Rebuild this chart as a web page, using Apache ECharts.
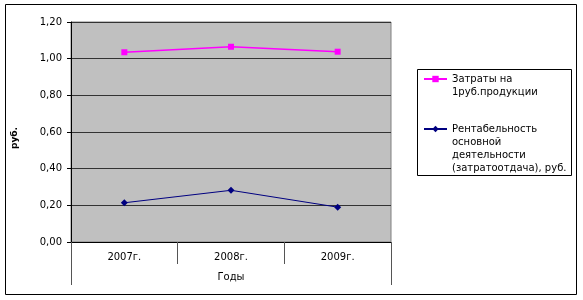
<!DOCTYPE html>
<html>
<head>
<meta charset="utf-8">
<script src="https://cdn.jsdelivr.net/npm/echarts@6/dist/echarts.min.js"></script>
<style>html,body{margin:0;padding:0;background:#fff}#c{width:583px;height:300px}</style>
</head>
<body>
<div id="c"></div>
<script>
var categories = ['2007г.', '2008г.', '2009г.'];
var costsPerRuble = [1.035, 1.065, 1.038];
var profitability = [0.214, 0.282, 0.19];
var yTickLabels = ['0,00', '0,20', '0,40', '0,60', '0,80', '1,00', '1,20'];
var seriesNames = ['Затраты на\n1руб.продукции', 'Рентабельность\nосновной\nдеятельности\n(затратоотдача), руб.'];
var xAxisTitle = ['Годы'];
var yAxisTitle = 'руб.';

var FONT = 'DejaVu Sans';
function topAligned(name) {
  var n = name.split('\n').length;
  return new Array(n).join('\n') + name;
}
var chart = echarts.init(document.getElementById('c'), null, {renderer: 'canvas'});
chart.setOption({
  animation: false,
  backgroundColor: '#fff',
  textStyle: {fontFamily: FONT},
  graphic: [
    {type: 'rect', shape: {x: 5.5, y: 4.5, width: 571, height: 290}, style: {fill: 'none', stroke: '#000', lineWidth: 1}, z: 0},
    {type: 'rect', shape: {x: 417.5, y: 69.5, width: 154, height: 106}, style: {fill: '#fff', stroke: '#000', lineWidth: 1}, z: 0},
    {type: 'text', x: 15, y: 138, rotation: Math.PI / 2,
      style: {text: yAxisTitle, fontFamily: FONT, fontSize: 9, fontWeight: 'bold', fill: '#000', align: 'center', verticalAlign: 'middle'}}
  ],
  legend: [
    {
      data: [seriesNames[0]], left: 423, top: 59.5, padding: 0, itemWidth: 23, itemHeight: 8,
      formatter: topAligned,
      textStyle: {fontFamily: FONT, fontSize: 10, color: '#000', lineHeight: 13},
      selectedMode: false
    },
    {
      data: [seriesNames[1]], left: 423, top: 83.5, padding: 0, itemWidth: 23, itemHeight: 8,
      formatter: topAligned,
      textStyle: {fontFamily: FONT, fontSize: 10, color: '#000', lineHeight: 13},
      selectedMode: false
    }
  ],
  grid: {left: 71, right: 192, top: 22, bottom: 58, show: true, backgroundColor: '#C0C0C0', borderColor: '#808080', borderWidth: 1},
  xAxis: [
    {
      type: 'category', data: categories, boundaryGap: true, position: 'bottom',
      axisLine: {show: true, lineStyle: {color: '#000', width: 1}},
      axisTick: {show: true, length: 22, interval: 0, lineStyle: {color: '#555'}},
      axisLabel: {margin: 10, fontSize: 10, color: '#000', fontFamily: FONT, interval: 0},
      splitLine: {show: false}
    },
    {
      type: 'category', data: xAxisTitle, boundaryGap: true, position: 'bottom', offset: 22,
      axisLine: {show: false},
      axisTick: {show: true, length: 21, lineStyle: {color: '#555'}},
      axisLabel: {margin: 8, fontSize: 10, color: '#000', fontFamily: FONT},
      splitLine: {show: false}
    }
  ],
  yAxis: {
    type: 'value', min: 0, max: 1.2, interval: 0.2,
    axisLine: {show: true, lineStyle: {color: '#000', width: 1}},
    axisTick: {show: true, length: 4, lineStyle: {color: '#000'}},
    axisLabel: {margin: 9, fontSize: 10, color: '#000', fontFamily: FONT,
      formatter: function (v) { return yTickLabels[Math.round(v / 0.2)]; }},
    splitLine: {show: true, lineStyle: {color: '#333', width: 1}}
  },
  series: [
    {
      name: seriesNames[0], type: 'line', data: costsPerRuble, xAxisIndex: 0,
      symbol: 'rect', symbolSize: 6,
      lineStyle: {color: '#FF00FF', width: 1.5},
      itemStyle: {color: '#FF00FF'}
    },
    {
      name: seriesNames[1], type: 'line', data: profitability, xAxisIndex: 0,
      symbol: 'diamond', symbolSize: 7,
      lineStyle: {color: '#000080', width: 1},
      itemStyle: {color: '#000080'}
    }
  ]
});
</script>
</body>
</html>
